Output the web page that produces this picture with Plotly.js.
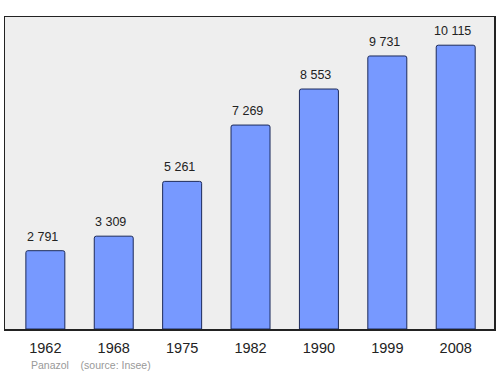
<!DOCTYPE html>
<html>
<head>
<meta charset="utf-8">
<script src="https://cdn.plot.ly/plotly-3.0.1.min.js"></script>
<style>html,body{margin:0;padding:0;background:#fff;}</style>
</head>
<body>
<div id="chart" style="width:500px;height:374px;"></div>
<script>
var years = ["1962", "1968", "1975", "1982", "1990", "1999", "2008"];
var population = [2791, 3309, 5261, 7269, 8553, 9731, 10115];
var footerText = "Panazol    (source: Insee)";

function fmt(v) {
  return String(v).replace(/\B(?=(\d{3})+(?!\d))/g, " ");
}

var trace = {
  type: "bar",
  x: years,
  y: population,
  width: 0.57,
  marker: {
    color: "#7799ff",
    line: {color: "#1c2a5a", width: 1},
    cornerradius: 2
  },
  hoverinfo: "none"
};

var L = 5, R = 6, T = 17, B = 45, W = 500, H = 374;
var pw = W - L - R, ph = H - T - B;

var annotations = years.map(function (yr, i) {
  return {
    x: i, y: population[i], xref: "x", yref: "y",
    text: fmt(population[i]), showarrow: false,
    xanchor: "center", yanchor: "bottom", yshift: 5, xshift: -3,
    font: {family: "Liberation Sans, Arial, sans-serif", size: 12.5, color: "#222"}
  };
});
annotations.push({
  x: (29 - L) / pw, y: (H - B - 365) / ph, xref: "paper", yref: "paper",
  xanchor: "left", yanchor: "middle",
  text: footerText, showarrow: false,
  font: {family: "Liberation Sans, Arial, sans-serif", size: 10.5, color: "#999"}
});

var layout = {
  width: W, height: H,
  margin: {l: L, r: R, t: T, b: B, pad: 0},
  paper_bgcolor: "#ffffff",
  plot_bgcolor: "#eeeeee",
  showlegend: false,
  xaxis: {
    type: "category",
    range: [-0.59, 6.56],
    showgrid: false, zeroline: false,
    showline: true, mirror: true, linecolor: "#222", linewidth: 1.5,
    ticks: "outside", ticklen: 5, tickcolor: "rgba(0,0,0,0)",
    tickfont: {family: "Liberation Sans, Arial, sans-serif", size: 14.5, color: "#222"},
    fixedrange: true
  },
  yaxis: {
    range: [0, 11120],
    showgrid: false, zeroline: false,
    showline: true, mirror: true, linecolor: "#222", linewidth: 1.5,
    showticklabels: false, ticks: "",
    fixedrange: true
  },
  annotations: annotations
};

Plotly.newPlot("chart", [trace], layout, {staticPlot: true, displayModeBar: false});
</script>
</body>
</html>
